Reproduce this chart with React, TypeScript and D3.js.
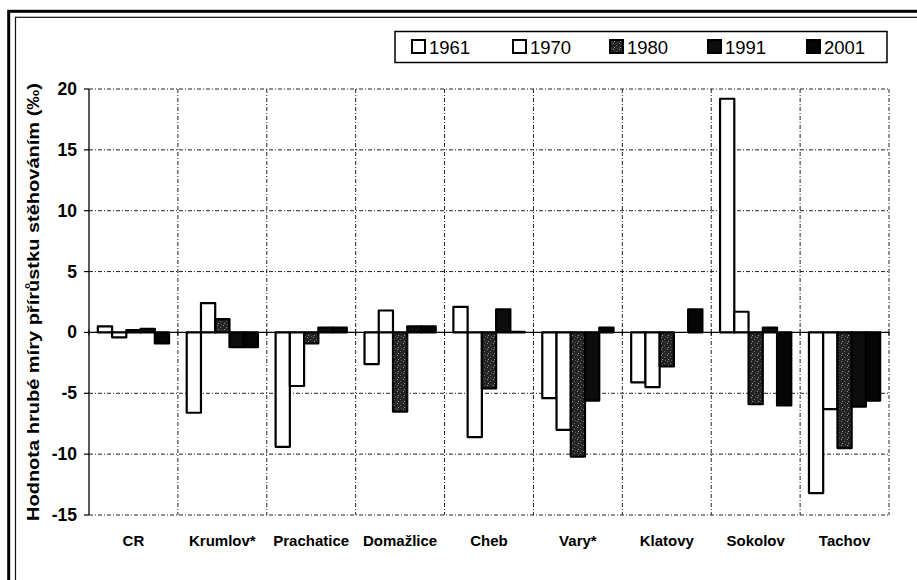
import React from "react";
import * as d3 from "d3";

const categories = ["CR", "Krumlov*", "Prachatice", "Domažlice", "Cheb", "Vary*", "Klatovy", "Sokolov", "Tachov"];
const seriesNames = ["1961", "1970", "1980", "1991", "2001"];
const v1961 = [0.5, -6.6, -9.4, -2.6, 2.1, -5.4, -4.1, 19.2, -13.2];
const v1970 = [-0.4, 2.4, -4.4, 1.8, -8.6, -8.0, -4.5, 1.7, -6.3];
const v1980 = [0.2, 1.1, -0.9, -6.5, -4.6, -10.2, -2.8, -5.9, -9.5];
const v1991 = [0.3, -1.2, 0.4, 0.5, 1.9, -5.6, 0.0, 0.4, -6.1];
const v2001 = [-0.9, -1.2, 0.4, 0.5, 0.05, 0.4, 1.9, -6.0, -5.6];
const yTicks = [20, 15, 10, 5, 0, -5, -10, -15];
const yTitle = "Hodnota hrubé míry přírůstku stěhováním (‰)";

const seriesValues = [v1961, v1970, v1980, v1991, v2001];
const fills = ["#ffffff", "#ffffff", "url(#stipple)", "#0d0d0d", "#050505"];

const W = 917, H = 580;
const plot = { left: 89, right: 889, top: 89, bottom: 515 };
const FONT = "'Liberation Sans', Arial, sans-serif";

export default function App() {
  const x = d3.scaleBand<string>().domain(categories).range([plot.left, plot.right]).paddingInner(0).paddingOuter(0);
  const xs = d3.scaleBand<string>().domain(seriesNames).range([0, x.bandwidth()]).paddingInner(0).paddingOuter(0.62);
  const y = d3.scaleLinear().domain([-15, 20]).range([plot.bottom, plot.top]);
  const y0 = y(0);
  const dash = "4,2,1,2";
  const boundaries = categories.map((c) => x(c)!).concat([plot.right]);

  const legendX = [412, 513, 610, 708, 807];

  return (
    <svg width={W} height={H} style={{ position: "absolute", left: 0, top: 0, background: "#fff" }} fontFamily={FONT}>
      <defs>
        <pattern id="stipple" width="6" height="6" patternUnits="userSpaceOnUse">
          <rect width="6" height="6" fill="#242424" />
          <rect x="1" y="1" width="1" height="1" fill="#8a8a8a" />
          <rect x="4" y="3" width="1" height="1" fill="#6e6e6e" />
          <rect x="2" y="5" width="1" height="1" fill="#9a9a9a" />
          <rect x="5" y="0" width="1" height="1" fill="#555" />
        </pattern>
      </defs>
      {/* frame */}
      <rect x={8.7} y={11.3} width={1000} height={1000} fill="none" stroke="#000" strokeWidth={3} />
      <rect x={15.5} y={17.3} width={1000} height={1000} fill="none" stroke="#111" strokeWidth={1.2} />

      {/* legend */}
      <rect x={395} y={31.5} width={492} height={31} fill="#fff" stroke="#000" strokeWidth={1.5} />
      {seriesNames.map((s, i) => (
        <g key={s}>
          <rect x={legendX[i]} y={40} width={13} height={13} fill={fills[i]} stroke="#000" strokeWidth={2} />
          <text x={legendX[i] + 17} y={54} fontSize={18.5} fill="#000">{s}</text>
        </g>
      ))}

      {/* horizontal grid */}
      {yTicks.filter((t) => t !== 0).map((t) => (
        <line key={t} x1={plot.left} x2={plot.right} y1={y(t)} y2={y(t)} stroke="#222" strokeWidth={1} strokeDasharray={dash} />
      ))}
      {/* vertical grid */}
      {boundaries.slice(1).map((b, i) => (
        <line key={i} x1={b} x2={b} y1={plot.top} y2={plot.bottom} stroke="#222" strokeWidth={1} strokeDasharray={dash} />
      ))}

      {/* bars */}
      {categories.map((c, ci) => (
        <g key={c}>
          {seriesNames.map((s, si) => {
            const v = seriesValues[si][ci];
            const bx = x(c)! + xs(s)!;
            const top = Math.min(y(v), y0);
            const h = Math.abs(y(v) - y0);
            return (
              <rect key={s} x={bx} y={top} width={xs.bandwidth()} height={h} fill={fills[si]} stroke="#000" strokeWidth={2.2} strokeLinejoin="round" />
            );
          })}
        </g>
      ))}

      {/* zero axis */}
      <line x1={plot.left} x2={plot.right} y1={y0} y2={y0} stroke="#000" strokeWidth={1.3} />
      {boundaries.map((b, i) => (
        <line key={i} x1={b} x2={b} y1={y0 - 3} y2={y0 + 3} stroke="#000" strokeWidth={1} />
      ))}

      {/* y axis */}
      <line x1={plot.left} x2={plot.left} y1={plot.top} y2={plot.bottom} stroke="#000" strokeWidth={1.3} />
      {yTicks.map((t) => (
        <g key={t}>
          <line x1={plot.left - 5} x2={plot.left} y1={y(t)} y2={y(t)} stroke="#000" strokeWidth={1.2} />
          <text x={77} y={y(t) + 6} textAnchor="end" fontSize={17.5} fontWeight="bold" fill="#000">{t}</text>
        </g>
      ))}

      {/* category labels */}
      {categories.map((c) => (
        <text key={c} x={x(c)! + x.bandwidth() / 2} y={546} textAnchor="middle" fontSize={15} fontWeight="bold" fill="#000">{c}</text>
      ))}

      {/* y title */}
      <text transform={`translate(39,302) rotate(-90)`} textAnchor="middle" fontSize={17} fontWeight="bold" fill="#000" textLength={438} lengthAdjust="spacingAndGlyphs">{yTitle}</text>
    </svg>
  );
}
